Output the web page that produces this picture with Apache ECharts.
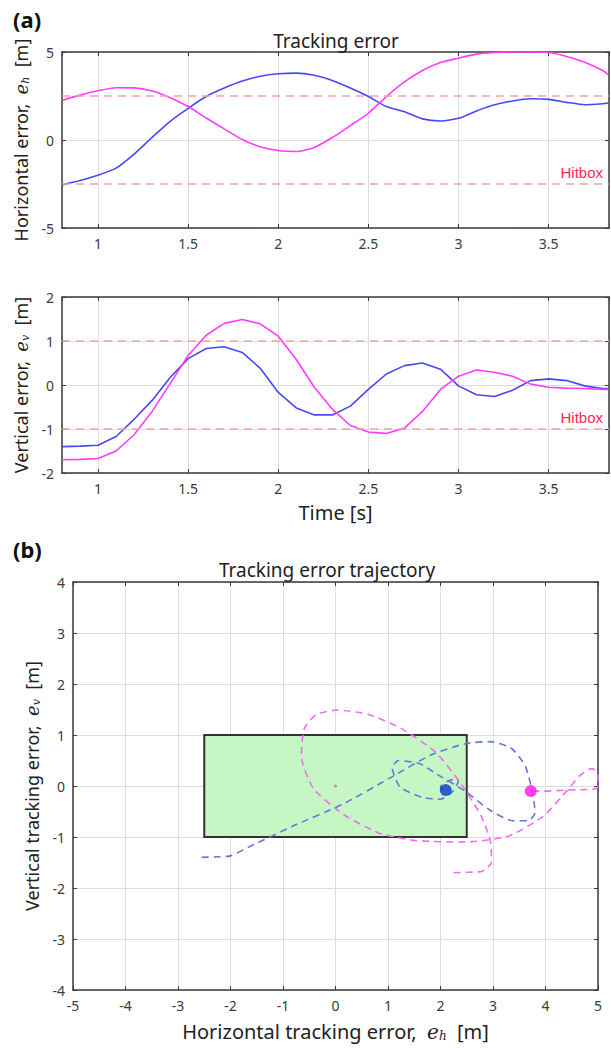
<!DOCTYPE html>
<html>
<head>
<meta charset="utf-8">
<script src="https://cdn.jsdelivr.net/npm/echarts@6/dist/echarts.min.js"></script>
<style>
html,body{margin:0;padding:0;background:#fff;}
#c{width:611px;height:1048px;}
</style>
</head>
<body>
<div id="c"></div>
<script>
// ---- data ----
const time = [0.8,0.9,1.0,1.1,1.2,1.3,1.4,1.5,1.6,1.7,1.8,1.9,2.0,2.1,2.2,2.3,2.4,2.5,2.6,2.7,2.8,2.9,3.0,3.1,3.2,3.3,3.4,3.5,3.6,3.7,3.8,3.83];
const blueH = [-2.55,-2.3,-2.0,-1.6,-0.8,0.15,1.06,1.8,2.47,2.95,3.35,3.62,3.76,3.8,3.68,3.38,2.95,2.47,1.9,1.6,1.2,1.08,1.23,1.65,2.0,2.22,2.34,2.31,2.14,2.0,2.06,2.1];
const blueV = [-1.4,-1.39,-1.37,-1.17,-0.78,-0.35,0.17,0.6,0.83,0.87,0.74,0.38,-0.17,-0.52,-0.68,-0.68,-0.48,-0.1,0.25,0.44,0.5,0.36,-0.02,-0.22,-0.26,-0.12,0.1,0.14,0.1,-0.02,-0.08,-0.08];
const magH = [2.25,2.55,2.8,2.97,2.96,2.78,2.4,1.9,1.25,0.63,0.03,-0.38,-0.6,-0.65,-0.42,0.14,0.82,1.52,2.47,3.3,3.95,4.4,4.65,4.88,4.97,5.0,5.0,4.97,4.75,4.42,3.95,3.72];
const magV = [-1.7,-1.69,-1.67,-1.5,-1.13,-0.6,0.03,0.67,1.13,1.4,1.49,1.39,1.11,0.58,-0.05,-0.55,-0.92,-1.07,-1.1,-0.98,-0.6,-0.1,0.2,0.34,0.29,0.2,0.02,-0.05,-0.07,-0.08,-0.1,-0.1];
const hitboxH = [-2.5, 2.5];
const hitboxV = [-1, 1];
const timeTicks = [1, 1.5, 2, 2.5, 3, 3.5];
const hTicks = [-5, 0, 5];
const vTicks = [-2, -1, 0, 1, 2];
const trajXTicks = [-5,-4,-3,-2,-1,0,1,2,3,4,5];
const trajYTicks = [-4,-3,-2,-1,0,1,2,3,4];
const origin = [0, 0];

// ---- styles ----
const FONT = 'Noto Sans';
const FRAME = '#3a3a3a';
const GRIDC = '#dedede';
const BLUE = '#4848f6';
const MAG = '#ff3cff';
const BLUE_D = '#6278dc';
const MAG_D = '#f06cf0';
const HIT = '#f4a2a2';
const lastI = time.length - 1;

const richName = (size) => ({
  e: {fontFamily: 'DejaVu Serif', fontStyle: 'italic', fontSize: size, color: '#222'},
  s: {fontFamily: 'DejaVu Serif', fontStyle: 'italic', fontSize: Math.round(size*0.62), color: '#222', padding: [Math.round(size*0.45),0,0,0]}
});

function valAxis(extra) {
  return Object.assign({
    type: 'value',
    axisLine: {show: true, onZero: false, lineStyle: {color: FRAME, width: 1.5}},
    axisTick: {show: true, inside: true, length: 4, lineStyle: {color: FRAME}},
    axisLabel: {color: '#3a3a3a', fontFamily: FONT, fontSize: 14},
    splitLine: {show: true, lineStyle: {color: GRIDC, width: 1}},
    nameTextStyle: {color: '#222', fontFamily: FONT, fontSize: 18},
    nameLocation: 'middle'
  }, extra);
}
function mirror(base, pos) {
  return Object.assign({}, base, {
    position: pos, name: '',
    axisLabel: {show: false},
    splitLine: {show: false}
  });
}
const tickFmt = (list) => (v) => list.some(t => Math.abs(t - v) < 1e-6) ? String(v) : '';

const xTime0 = valAxis({gridIndex: 0, min: 0.8, max: 3.835, splitNumber: 6,
  axisLabel: {color: '#3a3a3a', fontFamily: FONT, fontSize: 14, margin: 8, showMinLabel: false, showMaxLabel: false, formatter: tickFmt(timeTicks)}});
const xTime1 = valAxis({gridIndex: 1, min: 0.8, max: 3.835, splitNumber: 6,
  name: 'Time [s]', nameGap: 29, nameTextStyle: {color: '#222', fontFamily: FONT, fontSize: 20},
  axisLabel: {color: '#3a3a3a', fontFamily: FONT, fontSize: 14, margin: 8, showMinLabel: false, showMaxLabel: false, formatter: tickFmt(timeTicks)}});
const yH = valAxis({gridIndex: 0, min: hTicks[0], max: hTicks[hTicks.length-1], interval: 5,
  name: 'Horizontal error,  {e|e}{s|h}  [m]', nameGap: 27,
  nameTextStyle: {color: '#222', fontFamily: FONT, fontSize: 18, rich: richName(18)}});
const yV = valAxis({gridIndex: 1, min: vTicks[0], max: vTicks[vTicks.length-1], interval: 1,
  name: 'Vertical error,  {e|e}{s|v}  [m]', nameGap: 27,
  nameTextStyle: {color: '#222', fontFamily: FONT, fontSize: 18, rich: richName(18)}});
const xT = valAxis({gridIndex: 2, min: trajXTicks[0], max: trajXTicks[trajXTicks.length-1], interval: 1,
  name: 'Horizontal tracking error,  {e|e}{s|h}  [m]', nameGap: 31,
  nameTextStyle: {color: '#222', fontFamily: FONT, fontSize: 20, rich: richName(20)}});
const yT = valAxis({gridIndex: 2, min: trajYTicks[0], max: trajYTicks[trajYTicks.length-1], interval: 1,
  name: 'Vertical tracking error,  {e|e}{s|v}  [m]', nameGap: 30,
  nameTextStyle: {color: '#222', fontFamily: FONT, fontSize: 18, rich: richName(18)}});

const xAxes = [xTime0, xTime1, xT,
  mirror(xTime0, 'top'), mirror(xTime1, 'top'), mirror(xT, 'top')];
const yAxes = [yH, yV, yT,
  mirror(yH, 'right'), mirror(yV, 'right'), mirror(yT, 'right')];

function hitLines(vals) {
  return {
    silent: true, symbol: ['none', 'none'],
    lineStyle: {type: [8, 6], color: HIT, width: 1.5},
    data: vals.map((v, i) => ({
      yAxis: v,
      label: i === 0
        ? {show: true, formatter: 'Hitbox', position: 'insideEndTop', color: '#ff2a55', fontFamily: 'Liberation Sans', fontSize: 15, distance: [6, 4]}
        : {show: false}
    }))
  };
}

const pairs = (a, b) => a.map((v, i) => [v, b[i]]);

const option = {
  animation: false,
  backgroundColor: '#fff',
  title: [
    {text: '(a)', left: 8, top: 3, textStyle: {fontFamily: FONT, fontWeight: 'bold', fontSize: 22, color: '#111'}},
    {text: 'Tracking error', left: 331, top: 26, textAlign: 'center', textStyle: {fontFamily: FONT, fontWeight: 'normal', fontSize: 19, color: '#222'}},
    {text: '(b)', left: 8, top: 533, textStyle: {fontFamily: FONT, fontWeight: 'bold', fontSize: 22, color: '#111'}},
    {text: 'Tracking error trajectory', left: 322, top: 555, textAlign: 'center', textStyle: {fontFamily: FONT, fontWeight: 'normal', fontSize: 19, color: '#222'}}
  ],
  grid: [
    {left: 62, top: 52, width: 547, height: 176, show: true, borderWidth: 0, backgroundColor: '#fff'},
    {left: 62, top: 297, width: 547, height: 176, show: true, borderWidth: 0, backgroundColor: '#fff'},
    {left: 73, top: 582, width: 525, height: 408, show: true, borderWidth: 0, backgroundColor: '#fff'}
  ],
  xAxis: xAxes,
  yAxis: yAxes,
  series: [
    {type: 'line', xAxisIndex: 0, yAxisIndex: 0, data: pairs(time, blueH), showSymbol: false, smooth: 0.2,
      lineStyle: {color: BLUE, width: 1.6}, z: 3, markLine: hitLines([hitboxH[0], hitboxH[1]])},
    {type: 'line', xAxisIndex: 0, yAxisIndex: 0, data: pairs(time, magH), showSymbol: false, smooth: 0.2,
      lineStyle: {color: MAG, width: 1.6}, z: 3},
    {type: 'line', xAxisIndex: 1, yAxisIndex: 1, data: pairs(time, blueV), showSymbol: false,
      lineStyle: {color: BLUE, width: 1.6}, z: 3, markLine: hitLines([hitboxV[0], hitboxV[1]])},
    {type: 'line', xAxisIndex: 1, yAxisIndex: 1, data: pairs(time, magV), showSymbol: false,
      lineStyle: {color: MAG, width: 1.6}, z: 3},
    {type: 'custom', xAxisIndex: 2, yAxisIndex: 2, z: 2,
      data: [[hitboxH[0], hitboxV[0], hitboxH[1], hitboxV[1]]],
      renderItem: function (params, api) {
        const p0 = api.coord([api.value(0), api.value(3)]);
        const p1 = api.coord([api.value(2), api.value(1)]);
        return {type: 'rect', shape: {x: p0[0], y: p0[1], width: p1[0]-p0[0], height: p1[1]-p0[1]},
          style: {fill: '#c6f6c4', stroke: '#333', lineWidth: 2}};
      }},
    {type: 'scatter', xAxisIndex: 2, yAxisIndex: 2, data: [origin], symbolSize: 3, itemStyle: {color: '#e0742a'}, z: 3},
    {type: 'line', xAxisIndex: 2, yAxisIndex: 2, data: pairs(blueH, blueV), showSymbol: false, smooth: 0.2,
      lineStyle: {color: BLUE_D, width: 1.6, type: [7, 5]}, z: 4},
    {type: 'line', xAxisIndex: 2, yAxisIndex: 2, data: pairs(magH, magV), showSymbol: false, smooth: 0.2,
      lineStyle: {color: MAG_D, width: 1.6, type: [7, 5]}, z: 4},
    {type: 'scatter', xAxisIndex: 2, yAxisIndex: 2, data: [[blueH[lastI], blueV[lastI]]], symbolSize: 12,
      itemStyle: {color: '#0a3acc'}, z: 5},
    {type: 'scatter', xAxisIndex: 2, yAxisIndex: 2, data: [[magH[lastI], magV[lastI]]], symbolSize: 12,
      itemStyle: {color: '#ff14ee'}, z: 5}
  ]
};

const chart = echarts.init(document.getElementById('c'), null, {renderer: 'svg'});
chart.setOption(option);
</script>
</body>
</html>
